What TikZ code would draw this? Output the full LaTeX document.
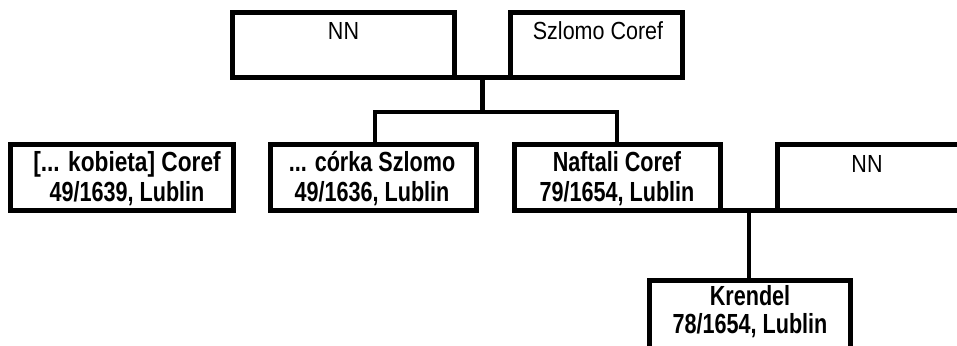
\documentclass[tikz,border=0pt]{standalone}
\usepackage{fontspec}
\setmainfont{Liberation Sans}
\newcommand{\tallb}[1]{\scalebox{1}[1.28]{#1}}
\newcommand{\tallr}[1]{\scalebox{1}[1.15]{#1}}
\begin{document}
\begin{tikzpicture}[x=1pt,y=-1pt,
  box/.style={draw=black, line width=5pt, rectangle, inner sep=0pt, outer sep=0pt, fill=white},
  conn/.style={draw=black, line width=4.5pt, line join=miter},
  couple/.style={draw=black, line width=5pt},
  reg/.style={font=\fontsize{21.5}{26}\selectfont, anchor=base, inner sep=0pt},
  bld/.style={font=\fontsize{21.6}{26}\selectfont\bfseries, anchor=base, inner sep=0pt}]
\useasboundingbox (0,0) rectangle (957,345);
\clip (0,0) rectangle (957,345);

% connectors
\coordinate (m1) at (482.5,77.5);
\coordinate (j1) at (482.5,112);
\coordinate (j1l) at (375,112);
\coordinate (j1r) at (617,112);
\coordinate (m2) at (749,210.5);
\coordinate (k1) at (749,280.5);

% boxes
\node[box, minimum width=222pt, minimum height=65pt] (nn1) at (343.5,45) {};
\node[box, minimum width=172pt, minimum height=65pt] (sz) at (596.5,45) {};
\node[box, minimum width=223pt, minimum height=66pt] (kob) at (122,177.5) {};
\node[box, minimum width=206pt, minimum height=66pt] (cor) at (373.5,177.5) {};
\node[box, minimum width=206pt, minimum height=66pt] (naf) at (617.5,177.5) {};
\node[box, minimum width=184.5pt, minimum height=66pt] (nn2) at (869.75,177.5) {};
\node[box, minimum width=201pt, minimum height=67.5pt] (kre) at (750,314.25) {};

\draw[couple] (nn1.south east) -- (sz.south west);
\draw[conn] (m1) -- (j1);
\draw[conn] (j1l |- cor.north) -- (j1l) -- (j1r) -- (j1r |- naf.north);
\draw[couple] (naf.south east) -- (nn2.south west);
\draw[conn] (m2) -- (k1 |- kre.north);

% texts
\node[reg] (t1) at (343.5,39.5) {\tallr{NN}};
\node[reg] (t2) at (598,39.5) {\tallr{Szlomo Coref}};
\node[reg] (t6) at (867,172) {\tallr{NN}};
\node[bld] (t3a) at (127,171.5) {\scalebox{1.05}[1.28]{[... kobieta] Coref}};
\node[bld] (t3b) at (127,201) {\tallb{49/1639, Lublin}};
\node[bld] (t4a) at (372,171.5) {\tallb{... córka Szlomo}};
\node[bld] (t4b) at (372,201) {\tallb{49/1636, Lublin}};
\node[bld] (t5a) at (617,171.5) {\tallb{Naftali Coref}};
\node[bld] (t5b) at (617,201) {\tallb{79/1654, Lublin}};
\node[bld] (t7a) at (750,305) {\tallb{Krendel}};
\node[bld] (t7b) at (750,333) {\tallb{78/1654, Lublin}};
\end{tikzpicture}
\end{document}
